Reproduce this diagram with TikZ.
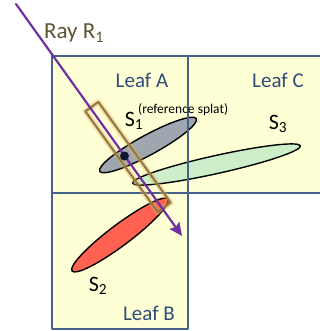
\documentclass[tikz,border=0pt]{standalone}
\usepackage{fontspec}
\setmainfont{Carlito}
\usetikzlibrary{arrows.meta}
\definecolor{leafblue}{RGB}{47,76,122}
\definecolor{leafedge}{RGB}{70,98,140}
\definecolor{leaffill}{RGB}{255,255,214}
\definecolor{raypurple}{RGB}{112,48,160}
\definecolor{rayolive}{RGB}{94,84,48}
\definecolor{boxolive}{RGB}{140,126,76}
\definecolor{boxorange}{RGB}{250,170,80}
\definecolor{splatgray}{RGB}{158,167,176}
\definecolor{splatgreen}{RGB}{204,238,200}
\definecolor{splatred}{RGB}{255,98,80}
\definecolor{dotnavy}{RGB}{14,22,52}
\tikzset{
  every picture/.style={line cap=round,line join=round},
  leafedges/.style={draw=leafedge,line width=1.9pt},
  leaflab/.style={font=\fontsize{21}{23}\selectfont,text=leafblue,inner sep=0pt},
  splat/.style={draw=black,line width=1.4pt},
  splatlab/.style={font=\fontsize{22}{24}\selectfont,text=black,inner sep=0pt},
  notelab/.style={font=\fontsize{13.5}{15}\selectfont,text=black,inner sep=0pt},
  raylab/.style={font=\fontsize{23}{25}\selectfont,text=rayolive,inner sep=0pt},
  ray/.style={draw=raypurple,line width=2.2pt,
    -{Stealth[length=13pt,width=12pt,inset=2pt]}},
  boxglow/.style={draw=boxorange,line width=6pt,opacity=.35},
  boxline/.style={draw=boxolive,line width=2.2pt},
  hitdot/.style={circle,fill=dotnavy,inner sep=0pt,minimum size=9pt}
}

\begin{document}
\begin{tikzpicture}[x=1pt,y=-1pt]
  \useasboundingbox (0,0) rectangle (320,331);

  % The three leaves.
  \fill[leaffill] (52,56) rectangle (322,193);
  \fill[leaffill] (52,193) rectangle (188,329);

  % Splats.
  \draw[splat,fill=splatgray,rotate around={28.6:(148,145)}]
    (148,145) ellipse [x radius=55,y radius=10];
  \draw[splat,fill=splatgreen,rotate around={12.5:(216.5,164.5)}]
    (216.5,164.5) ellipse [x radius=86,y radius=9];
  \draw[splat,fill=splatred,rotate around={36.9:(120,235)}]
    (120,235) ellipse [x radius=60,y radius=10.5];

  % Leaf borders.
  \draw[leafedges] (322,56) -- (52,56) -- (52,329) -- (188,329)
    -- (188,56);
  \draw[leafedges] (52,193) -- (322,193);

  % The box along the ray.
  \draw[boxglow,rotate around={-54.3:(128,157)}]
    (66,149) rectangle (190,165);
  \draw[boxline,rotate around={-54.3:(128,157)}]
    (66,149) rectangle (190,165);

  % The ray and its hit point.
  \coordinate (raystart) at (16,4);
  \coordinate (rayend) at (182,236);
  \draw[ray] (raystart) -- (rayend);
  \node[hitdot] (hit) at (124.5,156) {};

  % Labels.
  \node[raylab] (raylabel) at (74,33) {Ray R\textsubscript{1}};
  \node[leaflab] (leafA) at (142,80) {Leaf A};
  \node[leaflab] (leafC) at (278,80) {Leaf C};
  \node[leaflab] (leafB) at (149,313) {Leaf B};
  \node[splatlab] (sone) at (134,121) {S\textsubscript{1}};
  \node[notelab,anchor=west] (refnote) at (138,110) {(reference splat)};
  \node[splatlab] (sthree) at (278,124) {S\textsubscript{3}};
  \node[splatlab] (stwo) at (98,286) {S\textsubscript{2}};
\end{tikzpicture}
\end{document}
